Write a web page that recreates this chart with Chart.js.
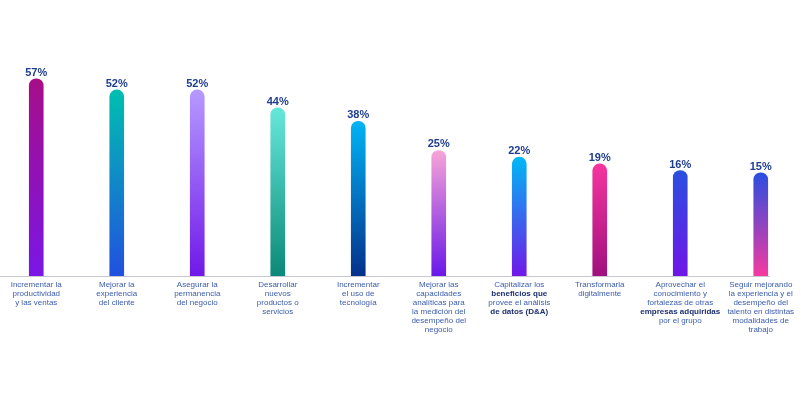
<!DOCTYPE html>
<html>
<head>
<meta charset="utf-8">
<script src="https://cdn.jsdelivr.net/npm/chart.js@4"></script>
<style>
  html, body { margin: 0; padding: 0; background: #fff; overflow: hidden; }
  #wrap { position: absolute; left: -4px; top: 0; width: 805px; height: 401px; }
</style>
</head>
<body>
<div id="wrap"><canvas id="chart"></canvas></div>
<script>
// Datos del gráfico
const categories = [
    ['Incrementar la', 'productividad', 'y las ventas'],
    ['Mejorar la', 'experiencia', 'del cliente'],
    ['Asegurar la', 'permanencia', 'del negocio'],
    ['Desarrollar', 'nuevos', 'productos o', 'servicios'],
    ['Incrementar', 'el uso de', 'tecnología'],
    ['Mejorar las', 'capacidades', 'analíticas para', 'la medición del', 'desempeño del', 'negocio'],
    ['Capitalizar los', 'beneficios que', 'provee el análisis', 'de datos (D&A)'],
    ['Transformarla', 'digitalmente'],
    ['Aprovechar el', 'conocimiento y', 'fortalezas de otras', 'empresas adquiridas', 'por el grupo'],
    ['Seguir mejorando', 'la experiencia y el', 'desempeño del', 'talento en distintas', 'modalidades de', 'trabajo']
];
// Líneas en negrita dentro de cada etiqueta
const boldLines = { 6: [1, 3], 8: [3] };
const values = [57, 52, 52, 44, 38, 25, 22, 19, 16, 15];
const topColors = ['#a60e88', '#00bfb0', '#b59aff', '#66e8d8', '#00b4f5', '#f7a4d8', '#00b8f5', '#f5359f', '#2a50e0', '#2a4ee0'];
const bottomColors = ['#7a16e6', '#2150e0', '#7018e8', '#0b8878', '#05308a', '#6a18e8', '#7018e8', '#a0107e', '#7015e8', '#f53aa0'];

// Eje de valores: la base de las barras queda por debajo de cero
const Y_MIN = -31;
const Y_MAX = 60;

function barGradient(context) {
    const chart = context.chart;
    const i = context.dataIndex;
    if (!chart.chartArea || i === undefined) return topColors[i] || topColors[0];
    const y = chart.scales.y;
    const top = y.getPixelForValue(values[i]);
    const bottom = y.getPixelForValue(Y_MIN);
    const g = chart.ctx.createLinearGradient(0, top, 0, bottom);
    g.addColorStop(0, topColors[i]);
    g.addColorStop(1, bottomColors[i]);
    return g;
}

// Línea base, porcentajes y etiquetas de categoría
const decorations = {
    id: 'decorations',
    beforeDatasetsDraw(chart) {
        const { ctx, scales: { x, y } } = chart;
        const base = y.getPixelForValue(Y_MIN);
        const right = x.getPixelForValue(values.length - 1) + 9;
        ctx.save();
        ctx.strokeStyle = '#c8c8cf';
        ctx.lineWidth = 1;
        ctx.beginPath();
        ctx.moveTo(0, base + 0.5);
        ctx.lineTo(right, base + 0.5);
        ctx.stroke();
        ctx.restore();
    },
    afterDatasetsDraw(chart) {
        const { ctx, scales: { x, y } } = chart;
        const base = y.getPixelForValue(Y_MIN);
        ctx.save();
        ctx.textAlign = 'center';
        ctx.textBaseline = 'alphabetic';
        values.forEach((v, i) => {
            const cx = x.getPixelForValue(i);
            ctx.font = 'bold 11px "Liberation Sans", Arial, sans-serif';
            ctx.fillStyle = '#1f3d8f';
            ctx.fillText(v + '%', cx, y.getPixelForValue(v) - 3);

            const bold = boldLines[i] || [];
            categories[i].forEach((line, j) => {
                const isBold = bold.includes(j);
                ctx.font = (isBold ? 'bold ' : '') + '8px "Liberation Sans", Arial, sans-serif';
                ctx.fillStyle = isBold ? '#1d2f6f' : '#3b5cab';
                ctx.fillText(line, cx, base + 11 + j * 9);
            });
        });
        ctx.restore();
    }
};

new Chart(document.getElementById('chart'), {
    type: 'bar',
    data: {
        labels: categories.map(c => c.join(' ')),
        datasets: [{
            data: values,
            base: Y_MIN,
            backgroundColor: barGradient,
            barThickness: 14,
            borderRadius: { topLeft: 7, topRight: 7, bottomLeft: 0, bottomRight: 0 },
            borderSkipped: 'bottom'
        }]
    },
    options: {
        responsive: true,
        maintainAspectRatio: false,
        animation: false,
        layout: { padding: { top: 72, bottom: 125, left: 0, right: 0 } },
        plugins: {
            legend: { display: false },
            tooltip: { enabled: false }
        },
        scales: {
            x: { display: false },
            y: { display: false, min: Y_MIN, max: Y_MAX }
        }
    },
    plugins: [decorations]
});
</script>
</body>
</html>
